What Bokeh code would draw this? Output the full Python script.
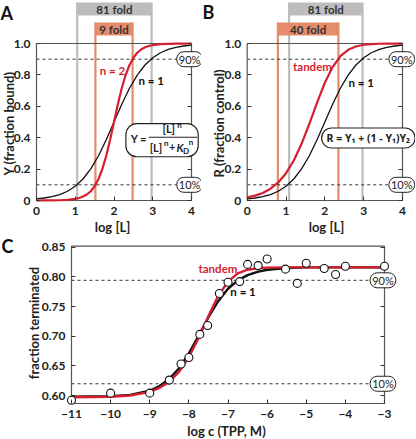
from bokeh.plotting import figure
from bokeh.models import Range1d, LinearAxis, FixedTicker, Label
from bokeh.layouts import column, row
from bokeh.embed import file_html
from bokeh.resources import INLINE
import math

# ---------------- data ----------------
# Panel A / B : simulated binding curves
log_L = [0.0, 0.2, 0.4, 0.6, 0.8, 1.0, 1.2, 1.4, 1.6, 1.8, 2.0, 2.2, 2.4, 2.6, 2.8,
         3.0, 3.2, 3.4, 3.6, 3.8, 4.0]
Y_n1 = [0.010, 0.016, 0.025, 0.038, 0.059, 0.091, 0.137, 0.201, 0.285, 0.387, 0.500,
        0.613, 0.715, 0.799, 0.863, 0.909, 0.941, 0.962, 0.976, 0.984, 0.990]
log_L_n2 = [0.0, 0.2, 0.4, 0.6, 0.8, 1.0, 1.1, 1.2, 1.3, 1.4, 1.5, 1.6, 1.7, 1.8, 1.9,
            2.0, 2.1, 2.2, 2.3, 2.4, 2.5, 2.6, 2.7, 2.8, 2.9, 3.0, 3.2, 3.4, 3.6, 3.8, 4.0]
Y_n2 = [0.0001, 0.0003, 0.0006, 0.0016, 0.004, 0.010, 0.016, 0.025, 0.038, 0.059, 0.091,
        0.137, 0.201, 0.285, 0.387, 0.500, 0.613, 0.715, 0.799, 0.863, 0.909, 0.941,
        0.962, 0.976, 0.984, 0.990, 0.996, 0.998, 0.9994, 0.9998, 0.9999]
R_tandem = [0.020, 0.031, 0.048, 0.075, 0.115, 0.174, 0.255, 0.361, 0.488, 0.624, 0.750,
            0.850, 0.919, 0.960, 0.981, 0.992, 0.9965, 0.9985, 0.9994, 0.9998, 0.9999]

# fold-range bands (log [L] at 10% and 90%)
band_A_gray = [1.05, 2.97]
band_A_orange = [1.52, 2.48]
band_B_gray = [1.08, 2.97]
band_B_orange = [0.79, 2.35]
fold_A = ["81 fold", "9 fold"]
fold_B = ["81 fold", "40 fold"]

x_ticks_top = [0, 1, 2, 3, 4]
y_ticks_top = [0, 0.2, 0.4, 0.6, 0.8, 1.0]
y_labels_top = ["0", "0.2", "0.4", "0.6", "0.8", "1.0"]
levels_top = [0.9, 0.1]

# Panel C : experimental data
log_c = [-11, -10, -9, -8.5, -8.2, -8.0, -7.72, -7.52, -7.22, -7.0, -6.7, -6.5, -6.23,
         -6.0, -5.53, -5.23, -5.0, -4.54, -4.25, -4.0, -3.0]
frac_term = [0.592, 0.604, 0.604, 0.626, 0.653, 0.664, 0.703, 0.718, 0.772, 0.791, 0.792,
             0.821, 0.819, 0.830, 0.813, 0.789, 0.823, 0.814, 0.804, 0.818, 0.818]
log_c_fit = [-11, -10, -9.5, -9, -8.75, -8.5, -8.25, -8, -7.75, -7.5, -7.25, -7, -6.75,
             -6.5, -6.25, -6, -5.5, -5, -4, -3]
fit_n1 = [0.598, 0.599, 0.601, 0.608, 0.616, 0.628, 0.646, 0.671, 0.701, 0.732, 0.759,
          0.780, 0.794, 0.803, 0.8085, 0.812, 0.815, 0.816, 0.816, 0.816]
fit_tandem = [0.597, 0.598, 0.600, 0.606, 0.613, 0.623, 0.640, 0.665, 0.697, 0.734, 0.768,
              0.792, 0.806, 0.812, 0.8145, 0.8155, 0.816, 0.816, 0.816, 0.816]
x_ticks_C = [-11, -10, -9, -8, -7, -6, -5, -4, -3]
y_ticks_C = [0.60, 0.65, 0.70, 0.75, 0.80, 0.85]
y_labels_C = ["0.60", "0.65", "0.70", "0.75", "0.80", "0.85"]
levels_C = [0.7942, 0.6198]
C_Y0, C_Y1 = 0.5865, 0.8517   # y extent of panel C's box

# ---------------- style ----------------
FONT = "Lato"
RED = "#d51f2e"
GRAY = "#bdbdbd"
ORANGE = "#e48c6c"
FRAME = "#555555"
TXT = "#222222"


def style_axis(ax, ticks, loc, overrides=None):
    ax.ticker = FixedTicker(ticks=ticks)
    ax.fixed_location = loc
    ax.axis_line_color = None
    ax.major_tick_in = 4
    ax.major_tick_out = 0
    ax.major_tick_line_color = "#333333"
    ax.major_tick_line_width = 1
    ax.minor_tick_line_color = None
    ax.major_label_text_font = FONT
    ax.major_label_text_font_style = "bold"
    ax.major_label_text_font_size = "12px"
    ax.major_label_text_color = TXT
    ax.major_label_standoff = 6
    if overrides:
        ax.major_label_overrides = overrides


def blank_right_axis(p, ticks, loc):
    ax = LinearAxis(ticker=FixedTicker(ticks=ticks), axis_line_color=None,
                    major_tick_in=4, major_tick_out=0, major_tick_line_color="#333333",
                    minor_tick_line_color=None, major_label_text_font_size="0px",
                    major_label_standoff=0, fixed_location=loc)
    ax.major_label_overrides = {t: "" for t in ticks}
    p.add_layout(ax, "right")


def text(p, x, y, s, size="12px", color=TXT, style="bold", align="left",
         baseline="middle", angle=0.0, font=FONT):
    p.add_layout(Label(x=x, y=y, text=s, text_font=font, text_font_size=size,
                       text_color=color, text_font_style=style, text_align=align,
                       text_baseline=baseline, angle=angle))


def pct_box(p, x, y, s):
    p.add_layout(Label(x=x, y=y, text=s, text_font=FONT, text_font_size="11px",
                       text_color=TXT, text_align="center", text_baseline="middle",
                       background_fill_color="white", border_line_color="#222222",
                       border_line_width=1, border_radius=7,
                       padding=dict(left=2, right=2, top=1, bottom=1)))


def base_fig(width, height, xr, yr):
    p = figure(width=width, height=height, x_range=Range1d(*xr), y_range=Range1d(*yr),
               output_backend="svg", toolbar_location=None, min_border=0,
               min_border_left=0, min_border_right=0, min_border_top=0,
               min_border_bottom=0)
    p.outline_line_color = None
    p.xgrid.visible = False
    p.ygrid.visible = False
    return p


# page geometry (the page is drawn from its top-left corner)
TOP_H = 234
Y0_PX, Y1_PX = 200.0, 43.0          # page y of Y = 0 and Y = 1 in panels A/B
PX_PER_Y = Y0_PX - Y1_PX


def top_panel(canvas_x0, width, px0, px4):
    ppx = (px4 - px0) / 4.0
    xr = ((canvas_x0 - px0) / ppx, (canvas_x0 + width - px0) / ppx)
    yr = ((Y0_PX - TOP_H) / PX_PER_Y, Y0_PX / PX_PER_Y)
    p = base_fig(width, TOP_H, xr, yr)
    style_axis(p.xaxis[0], x_ticks_top, y_ticks_top[0])
    style_axis(p.yaxis[0], y_ticks_top, x_ticks_top[0],
               dict(zip(y_ticks_top, y_labels_top)))
    blank_right_axis(p, y_ticks_top, x_ticks_top[-1])
    fx = lambda X: (X - px0) / ppx
    fy = lambda Y: (Y0_PX - Y) / PX_PER_Y
    return p, fx, fy


def bands(p, gray, orange, labels, fy):
    g_top, g_bot = fy(2), fy(15)
    o_top, o_bot = fy(22), fy(35)
    p.quad(left=[gray[0]], right=[gray[1]], bottom=[g_bot], top=[g_top],
           fill_color=GRAY, line_color=None)
    p.segment(x0=gray, y0=[0, 0], x1=gray, y1=[g_top, g_top], line_color=GRAY,
              line_width=2.2)
    p.quad(left=[orange[0]], right=[orange[1]], bottom=[o_bot], top=[o_top],
           fill_color=ORANGE, line_color=None)
    p.segment(x0=orange, y0=[0, 0], x1=orange, y1=[o_top, o_top], line_color=ORANGE,
              line_width=2.2)
    text(p, sum(gray) / 2, (g_top + g_bot) / 2, labels[0], size="11.5px",
         color="#333333", align="center")
    text(p, sum(orange) / 2, (o_top + o_bot) / 2, labels[1], size="11.5px",
         color="#333333", align="center")


def dashed(p, x0, x1, levels):
    p.segment(x0=[x0] * len(levels), y0=levels, x1=[x1] * len(levels), y1=levels,
              line_color="#333333", line_width=1, line_dash="3 3")


def frame_box(p, x0, x1, y0, y1):
    p.quad(left=[x0], right=[x1], bottom=[y0], top=[y1], fill_color=None,
           line_color=FRAME, line_width=1.2)


# ---------------- Panel A ----------------
pA, fxA, fy = top_panel(0, 201, 36.0, 191.0)
bands(pA, band_A_gray, band_A_orange, fold_A, fy)
dashed(pA, x_ticks_top[0], x_ticks_top[-1], levels_top)
frame_box(pA, x_ticks_top[0], x_ticks_top[-1], y_ticks_top[0], y_ticks_top[-1])
pA.line(log_L, Y_n1, line_color="#111111", line_width=1.3)
pA.line(log_L_n2, Y_n2, line_color=RED, line_width=2.2)
text(pA, 1.63, 0.83, "n = 2", size="11.5px", color=RED)
text(pA, 2.63, 0.764, "n = 1", size="11.5px", color="#111111")
pct_box(pA, 3.95, 0.9, "90%")
pct_box(pA, 3.95, 0.1, "10%")
# formula box
pA.add_layout(Label(x=3.24, y=0.384, text=" ", text_font_size="1px", text_align="center",
                    text_baseline="middle", background_fill_color="white",
                    border_line_color="#222222", border_line_width=1.2, border_radius=11,
                    padding=dict(left=36, right=36, top=16, bottom=16)))
text(pA, 2.43, 0.397, "Y =", size="11px")
text(pA, 3.25, 0.459, "[L]", size="11px")
text(pA, 3.63, 0.482, "n", size="8px")
pA.add_layout(Label(x=3.52, y=0.403, text=" ", text_font_size="1px", text_align="center",
                    text_baseline="middle", background_fill_color="#222222",
                    padding=dict(left=24, right=24, top=0, bottom=0)))
text(pA, 2.92, 0.34, "[L]", size="11px")
text(pA, 3.29, 0.366, "n", size="8px")
text(pA, 3.42, 0.34, "+", size="11px")
text(pA, 3.61, 0.34, "K", size="11px", style="bold italic")
text(pA, 3.78, 0.318, "D", size="8px")
text(pA, 3.93, 0.37, "n", size="8px")
text(pA, fxA(0), fy(1), "A", size="18px", baseline="top", color="#111111")
text(pA, fxA(8.5), fy(123), "Y (fraction bound)", size="13px", align="center",
     angle=math.pi / 2)
text(pA, fxA(112), fy(226), "log [L]", size="13px", align="center")

# ---------------- Panel B ----------------
pB, fxB, _ = top_panel(201, 214, 246.7, 402.0)
bands(pB, band_B_gray, band_B_orange, fold_B, fy)
dashed(pB, x_ticks_top[0], x_ticks_top[-1], levels_top)
frame_box(pB, x_ticks_top[0], x_ticks_top[-1], y_ticks_top[0], y_ticks_top[-1])
pB.line(log_L, Y_n1, line_color="#111111", line_width=1.3)
pB.line(log_L, R_tandem, line_color=RED, line_width=2.2)
text(pB, 1.18, 0.855, "tandem", size="11.5px", color=RED)
text(pB, 2.61, 0.754, "n = 1", size="11.5px", color="#111111")
pct_box(pB, 3.98, 0.9, "90%")
pct_box(pB, 3.98, 0.1, "10%")
pB.add_layout(Label(x=3.12, y=0.398, text="R = Y\u2081 + (1 - Y\u2081)Y\u2082",
                    text_font="Noto Sans", text_font_size="10.5px", text_font_style="bold",
                    text_color=TXT, text_align="center", text_baseline="middle",
                    background_fill_color="white", border_line_color="#222222",
                    border_line_width=1.2, border_radius=10,
                    padding=dict(left=5, right=5, top=3, bottom=3)))
text(pB, fxB(202), fy(0), "B", size="18px", baseline="top", color="#111111")
text(pB, fxB(218), fy(123), "R (fraction control)", size="13px", align="center",
     angle=math.pi / 2)
text(pB, fxB(326), fy(226), "log [L]", size="13px", align="center")

# ---------------- Panel C ----------------
C_TOP = TOP_H
C_H = 204
C_PX_L, C_PX_R = 71.0, 384.0
C_PX_085, C_PX_060 = 246.7, 395.0
ppx_c = (C_PX_R - C_PX_L) / (x_ticks_C[-1] - x_ticks_C[0])
ppy_c = (C_PX_060 - C_PX_085) / (y_ticks_C[-1] - y_ticks_C[0])
fxC = lambda X: x_ticks_C[0] + (X - C_PX_L) / ppx_c
fyC = lambda Y: y_ticks_C[-1] - (Y - C_PX_085) / ppy_c
pC = base_fig(415, C_H, (fxC(0), fxC(415)), (fyC(C_TOP + C_H), fyC(C_TOP)))
style_axis(pC.xaxis[0], x_ticks_C, C_Y0)
style_axis(pC.yaxis[0], y_ticks_C, x_ticks_C[0], dict(zip(y_ticks_C, y_labels_C)))
blank_right_axis(pC, y_ticks_C, x_ticks_C[-1])
dashed(pC, x_ticks_C[0], x_ticks_C[-1], levels_C)
frame_box(pC, x_ticks_C[0], x_ticks_C[-1], C_Y0, C_Y1)
pC.line(log_c_fit, fit_n1, line_color="#111111", line_width=2.4)
pC.line(log_c_fit, fit_tandem, line_color=RED, line_width=2.4)
pC.scatter(log_c, frac_term, size=8, marker="circle", fill_color="white",
           line_color="#111111", line_width=1.1)
text(pC, -7.754, 0.8141, "tandem", size="11.5px", color=RED)
text(pC, -6.94, 0.7754, "n = 1", size="11.5px", color="#111111")
pct_box(pC, -3.04, levels_C[0], "90%")
pct_box(pC, -3.04, levels_C[1], "10%")
text(pC, fxC(1), fyC(234.5), "C", size="18px", baseline="top", color="#111111")
text(pC, fxC(33), fyC(322.5), "fraction terminated", size="13px", align="center",
     angle=math.pi / 2)
text(pC, fxC(226), fyC(430), "log c (TPP, M)", size="13px", align="center")

layout = column(row(pA, pB), pC)
open("out.html", "w").write(file_html(layout, INLINE))
